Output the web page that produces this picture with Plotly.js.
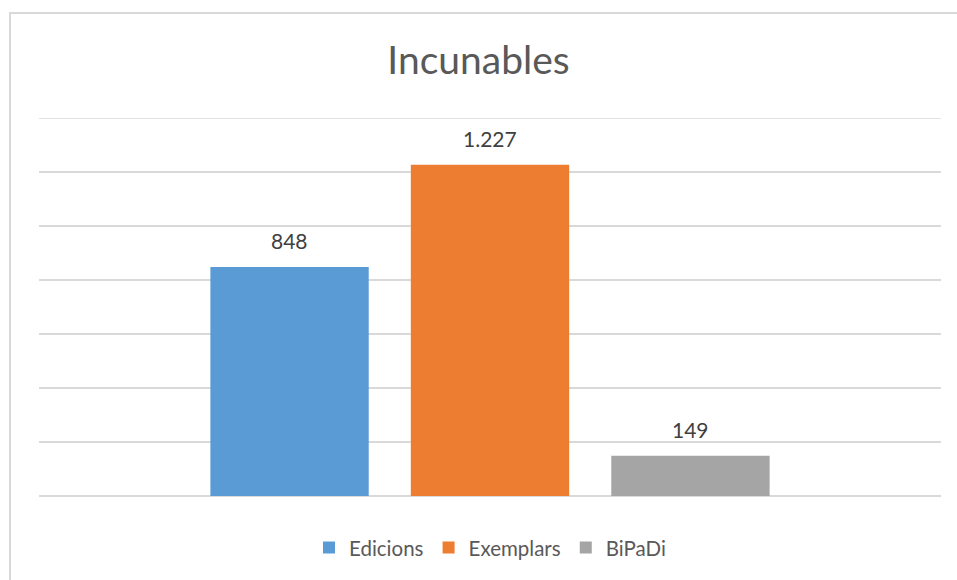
<!DOCTYPE html>
<html>
<head>
<meta charset="utf-8">
<script src="https://cdn.plot.ly/plotly-3.0.1.min.js"></script>
<style>
  html, body { margin: 0; padding: 0; background: #fff; }
  #frame { position: absolute; left: 9px; top: 12px; width: 1000px; height: 1000px; border: 2px solid #d9d9d9; box-sizing: border-box; }
  #chart { position: absolute; left: 0; top: 0; width: 957px; height: 580px; }
</style>
</head>
<body>
<div id="frame"></div>
<div id="chart"></div>
<script>
const seriesNames = ['Edicions', 'Exemplars', 'BiPaDi'];
const seriesValues = [848, 1227, 149];
const seriesColors = ['#5B9BD5', '#ED7D31', '#A5A5A5'];
const yTicks = [0, 200, 400, 600, 800, 1000, 1200, 1400];

function fmt(v) {
  return String(v).replace(/\B(?=(\d{3})+(?!\d))/g, '.');
}

const FONT = 'Lato, "Open Sans", sans-serif';
const yMax = yTicks[yTicks.length - 1];

const traces = seriesNames.map((name, i) => ({
  type: 'bar',
  name: name,
  x: [name],
  y: [seriesValues[i]],
  width: 0.79,
  marker: { color: seriesColors[i] },
  hoverinfo: 'skip'
}));

const annotations = seriesNames.map((name, i) => ({
  x: name,
  y: seriesValues[i],
  xref: 'x',
  yref: 'y',
  text: fmt(seriesValues[i]),
  showarrow: false,
  yanchor: 'bottom',
  yshift: 12,
  font: { family: FONT, size: 21, color: '#404040' }
}));

const layout = {
  width: 957,
  height: 580,
  margin: { l: 39, r: 16, t: 118, b: 82 },
  paper_bgcolor: 'rgba(0,0,0,0)',
  plot_bgcolor: 'rgba(0,0,0,0)',
  barmode: 'overlay',
  title: {
    text: 'Incunables',
    font: { family: FONT, size: 39, color: '#595959' },
    x: 0.5,
    xanchor: 'center',
    y: 1 - 60 / 580,
    yref: 'container',
    yanchor: 'middle'
  },
  xaxis: {
    type: 'category',
    categoryorder: 'array',
    categoryarray: seriesNames,
    range: [-1.25, 3.25],
    showticklabels: false,
    showgrid: false,
    zeroline: false,
    showline: false,
    ticks: ''
  },
  yaxis: {
    range: [0, yMax],
    tickvals: yTicks,
    showticklabels: false,
    showgrid: true,
    gridcolor: '#d9d9d9',
    gridwidth: 1.5,
    zeroline: true,
    zerolinecolor: '#d9d9d9',
    zerolinewidth: 1.5,
    showline: false,
    ticks: ''
  },
  shapes: [{
    type: 'line',
    xref: 'paper', x0: 0, x1: 1,
    yref: 'y', y0: yMax, y1: yMax,
    line: { color: '#d9d9d9', width: 1.5 },
    layer: 'below'
  }],
  showlegend: true,
  legend: {
    orientation: 'h',
    x: 0.5,
    xanchor: 'center',
    y: -0.137,
    yanchor: 'middle',
    font: { family: FONT, size: 20.5, color: '#595959' },
    itemclick: false,
    itemdoubleclick: false
  },
  annotations: annotations
};

Plotly.newPlot('chart', traces, layout, { displayModeBar: false, staticPlot: true });
</script>
</body>
</html>
